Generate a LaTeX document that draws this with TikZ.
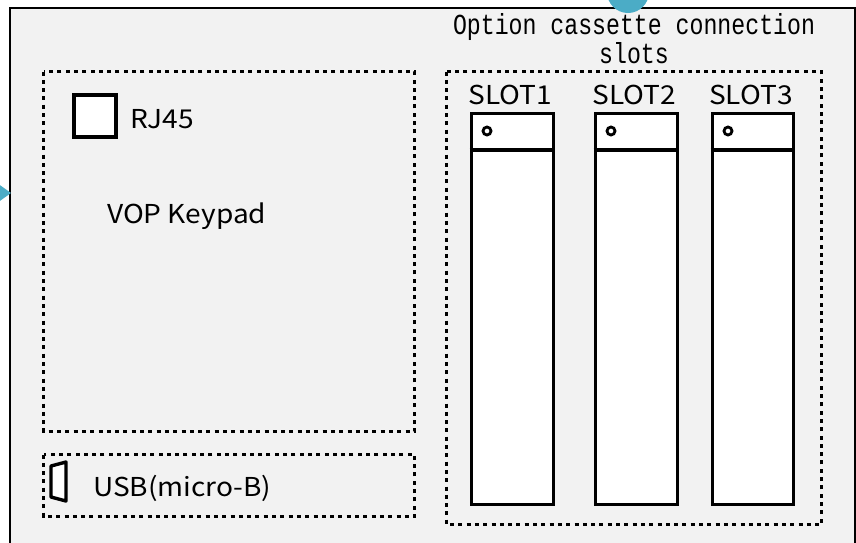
\documentclass[tikz,border=0pt]{standalone}
\usepackage{fontspec}
\setmainfont[FakeStretch=1.08]{Noto Sans CJK JP}
\newfontfamily\monofont[FakeStretch=0.8]{Liberation Mono}
\definecolor{bg}{HTML}{F2F2F2}
\definecolor{accent}{HTML}{4BACC6}
\begin{document}
\begin{tikzpicture}[x=1pt,y=-1pt,
  dotbox/.style={draw, line width=3.3pt, dash pattern=on 4pt off 4.3pt},
  slotbox/.style={draw, fill=white, line width=3.6pt, rectangle, inner sep=0pt},
  lbl/.style={font=\fontsize{26}{30}\selectfont, inner sep=0pt}]
\useasboundingbox (0,0) rectangle (856,542);
\begin{scope}
\clip (0,0) rectangle (856,542);
\draw[fill=bg, line width=2pt] (10,8) rectangle (855,580);
\fill[accent] (628,-8) circle (21);
\fill[accent] (11,193) -- (-10,178) -- (-10,208) -- cycle;
\end{scope}
% title
\node[font=\monofont\fontsize{29}{26}\selectfont, align=center, inner sep=0pt, anchor=base] (title) at (634,63) {Option cassette connection\\slots};
% dotted boxes
\draw[dotbox] (43.5,71.5) rectangle (414.5,431.5);
\draw[dotbox] (43.5,454.5) rectangle (414.5,516.5);
\draw[dotbox] (446.5,71.5) rectangle (821.5,524.5);
% RJ45
\node[draw, fill=white, line width=3.6pt, minimum width=42pt, minimum height=42pt, inner sep=0pt] (rj) at (95,116) {};
\node[lbl, anchor=base west] (rjl) at (130,128) {RJ45};
\node[lbl, anchor=base west] (vop) at (107,223) {VOP Keypad};
% USB
\draw[fill=white, line width=3.4pt, line join=round] (51,466) -- (66,462) -- (66,501) -- (51,497) -- cycle;
\node[lbl, anchor=base west] (usb) at (93,496) {USB(micro-B)};
% slots
\foreach \i/\xl/\xr in {1/469.5/551.5, 2/593.5/675.5, 3/710.5/791.5}{
  \node[slotbox, anchor=north west, minimum width=\xr pt-\xl pt, minimum height=391pt] (slot\i) at (\xl,111.5) {};
  \draw[line width=3.6pt] (\xl,150) -- (\xr,150);
  \draw[line width=2.8pt, fill=white] (\xl+17.5,131) circle (4);
  \node[lbl, anchor=base] (sl\i) at ({(\xl+\xr)/2},104) {SLOT\i};
}
\end{tikzpicture}
\end{document}
